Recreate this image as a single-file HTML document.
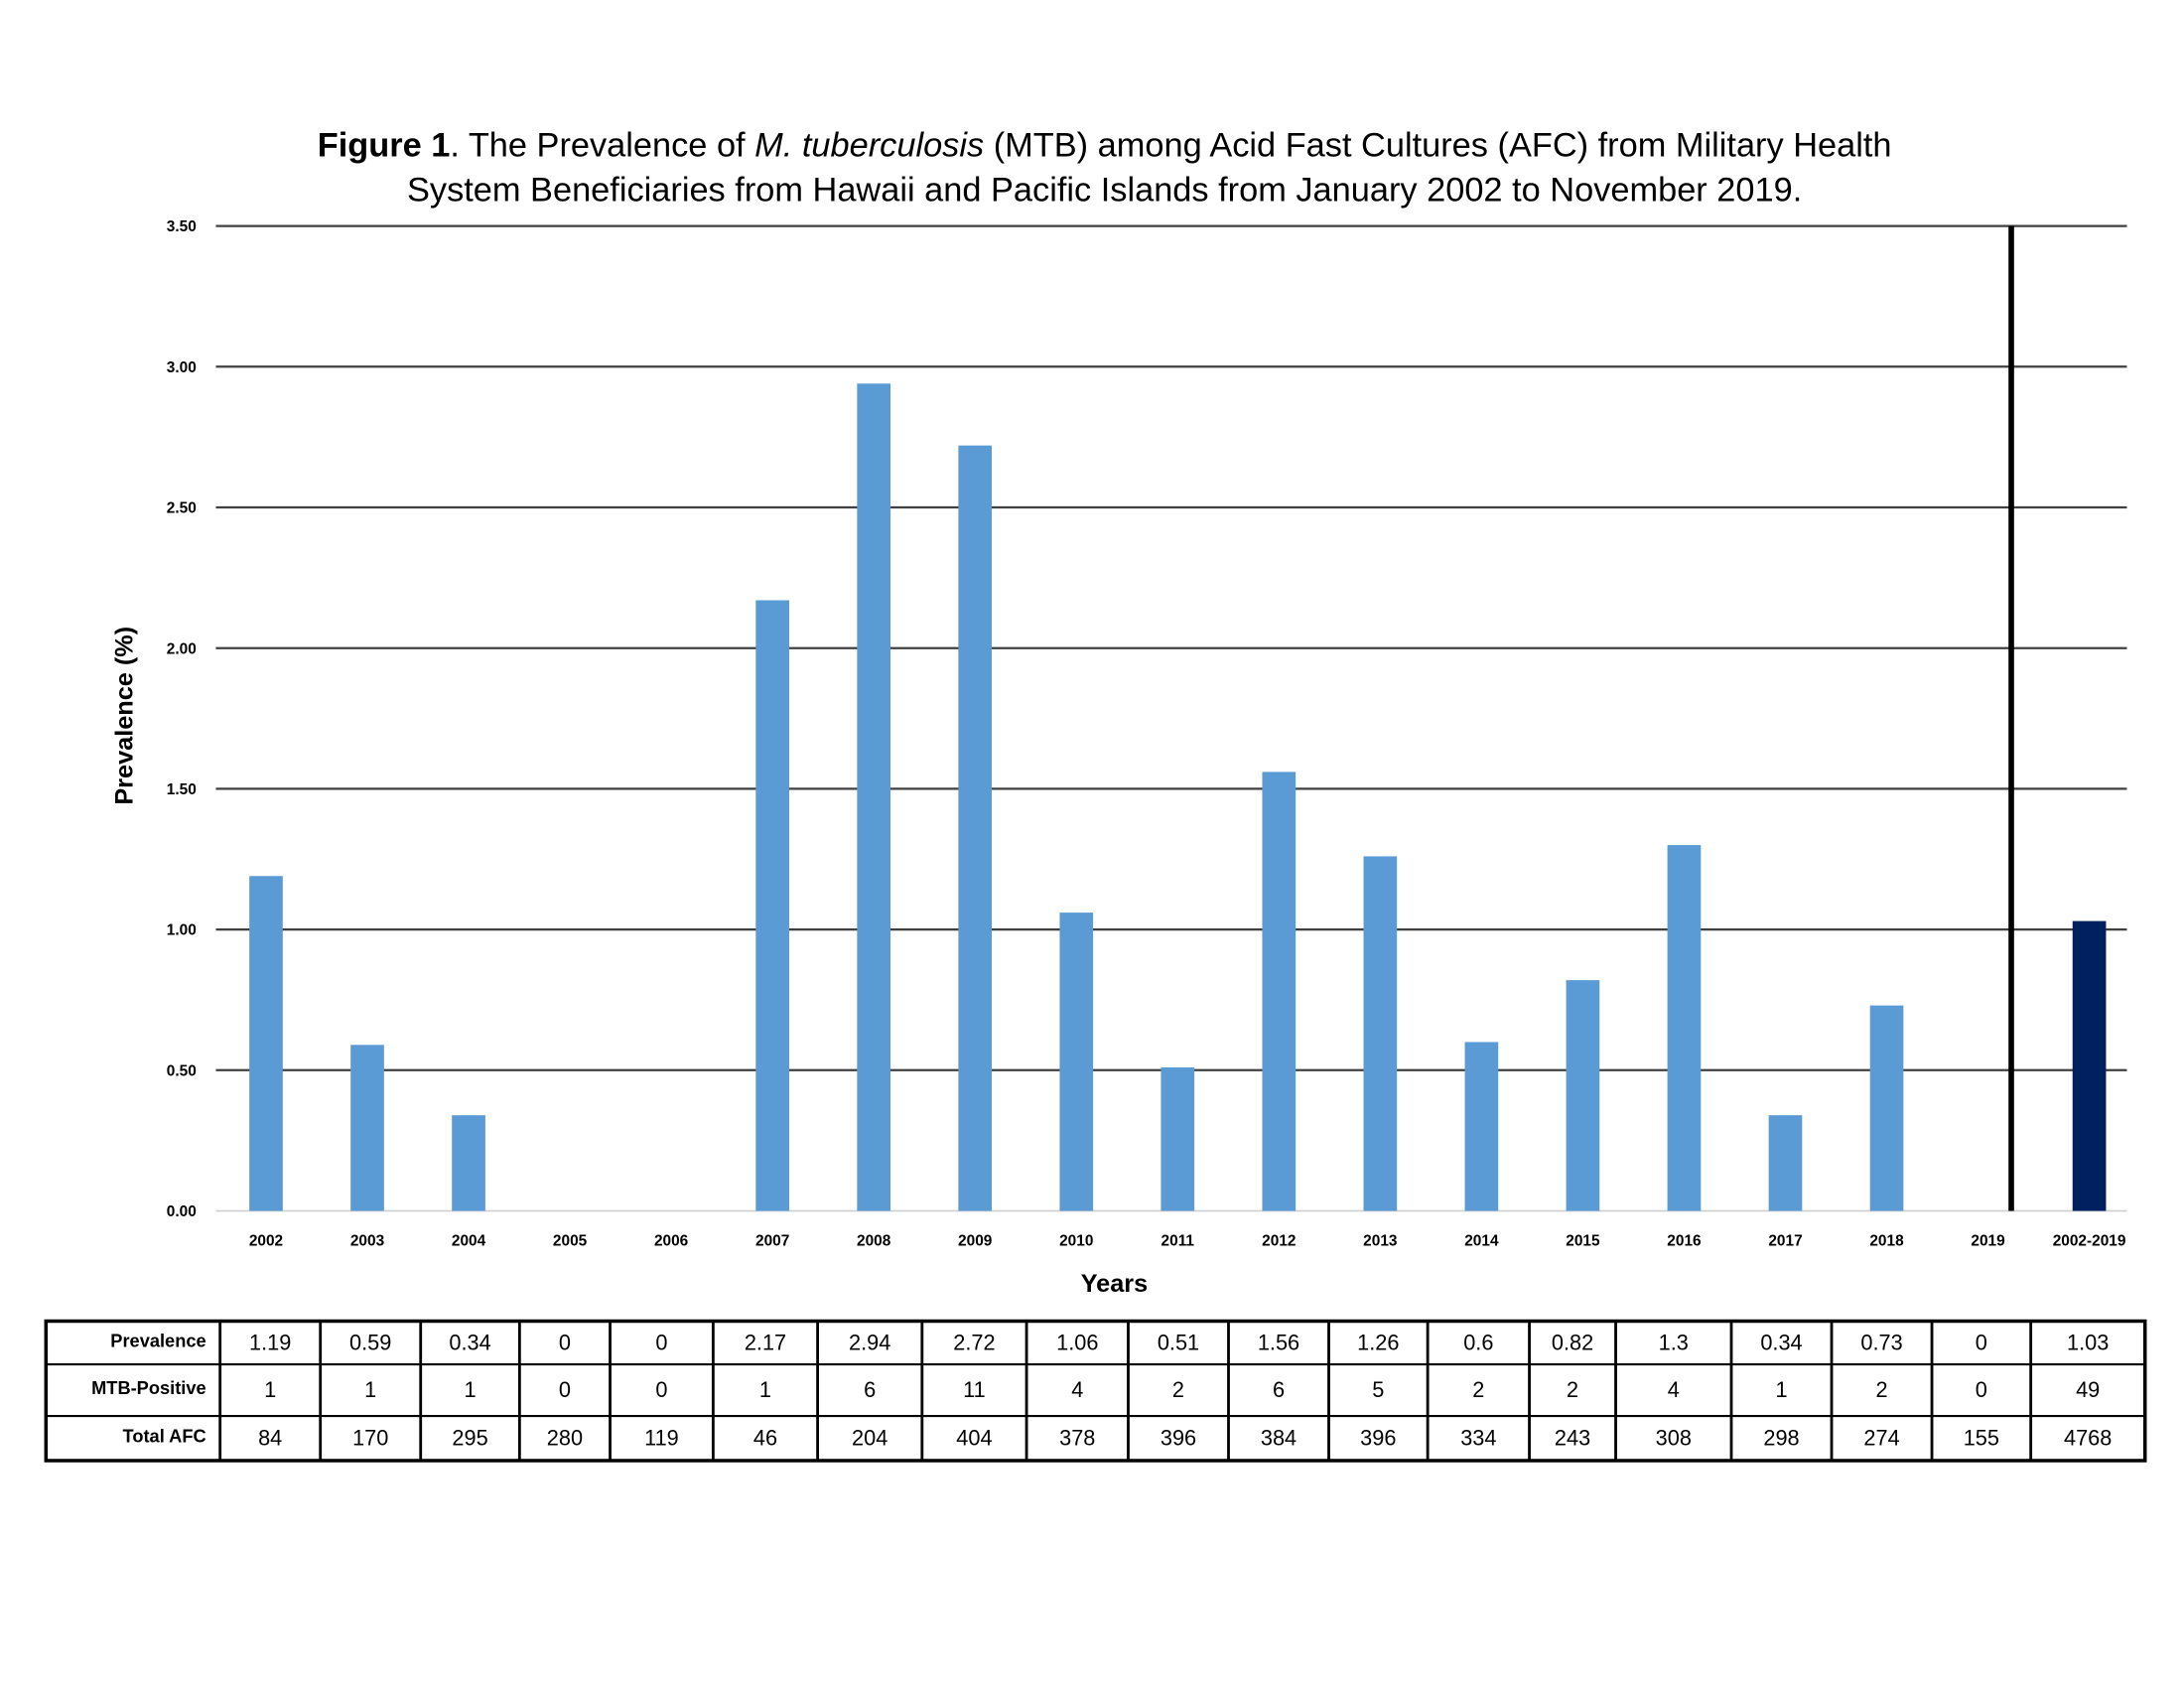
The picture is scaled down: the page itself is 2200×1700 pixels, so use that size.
<!DOCTYPE html>
<html><head><meta charset="utf-8"><style>
html,body{margin:0;padding:0;background:#fff;}
svg{display:block;font-family:"Liberation Sans",sans-serif;}
</style></head><body>
<svg id="chart" width="2200" height="1700" viewBox="0 0 1568 1210" preserveAspectRatio="none" xmlns="http://www.w3.org/2000/svg">
<rect width="1568" height="1210" fill="#fff"/>
<text x="793" y="112" text-anchor="middle" font-size="24.5" fill="#000"><tspan font-weight="bold">Figure 1</tspan>. The Prevalence of <tspan font-style="italic">M. tuberculosis</tspan> (MTB) among Acid Fast Cultures (AFC) from Military Health</text>
<text x="793" y="144" text-anchor="middle" font-size="24.5" fill="#000">System Beneficiaries from Hawaii and Pacific Islands from January 2002 to November 2019.</text>
<g id="grid"></g><g id="bars"></g><g id="xlabels"></g><g id="table"></g>
<text transform="translate(95,513) rotate(-90)" text-anchor="middle" font-size="18" font-weight="bold">Prevalence (%)</text>
<text x="800" y="926" text-anchor="middle" font-size="18" font-weight="bold">Years</text>
</svg>
<script>
const categories=["2002","2003","2004","2005","2006","2007","2008","2009","2010","2011","2012","2013","2014","2015","2016","2017","2018","2019","2002-2019"];
const prevalence=[1.19,0.59,0.34,0,0,2.17,2.94,2.72,1.06,0.51,1.56,1.26,0.6,0.82,1.3,0.34,0.73,0,1.03];
const mtbPositive=[1,1,1,0,0,1,6,11,4,2,6,5,2,2,4,1,2,0,49];
const totalAfc=[84,170,295,280,119,46,204,404,378,396,384,396,334,243,308,298,274,155,4768];
const prevalenceLabels=["1.19","0.59","0.34","0","0","2.17","2.94","2.72","1.06","0.51","1.56","1.26","0.6","0.82","1.3","0.34","0.73","0","1.03"];
const yTicks=[0,0.5,1,1.5,2,2.5,3,3.5];
const yTickLabels=["0.00","0.50","1.00","1.50","2.00","2.50","3.00","3.50"];
const NS="http://www.w3.org/2000/svg";
function mk(tag,attrs,parent){const e=document.createElementNS(NS,tag);for(const k in attrs)e.setAttribute(k,attrs[k]);parent.appendChild(e);return e;}
const plotL=155,plotR=1527,y0=868,yTop=162;
function yScale(v){return y0-(v/3.5)*(y0-yTop);}
function xScale(i){return 191+i*(1500-191)/(categories.length-1);}
const grid=document.getElementById('grid');
yTicks.forEach((t,i)=>{
  const l=mk('line',{x1:plotL,x2:plotR,y1:yScale(t),y2:yScale(t),stroke:i===0?'#d0d0d0':'#404040','stroke-width':i===0?1.2:1.6},grid);
  
  
  const tx=mk('text',{x:141,y:yScale(t)+4,'text-anchor':'end','font-size':11,'font-weight':'bold'},grid);
  tx.textContent=yTickLabels[i];
  
  
});
const bars=document.getElementById('bars');
prevalence.forEach((v,i)=>{
  const last=i===prevalence.length-1;
  const r=mk('rect',{x:xScale(i)-12,y:yScale(v),width:24,height:y0-yScale(v),fill:last?'#002060':'#5b9bd5'},bars);
  
  
});
const sep=mk('line',{x1:1444,x2:1444,y1:yTop,y2:y0,stroke:'#000','stroke-width':4},bars);


const xl=document.getElementById('xlabels');
categories.forEach((c,i)=>{
  const t=mk('text',{x:xScale(i),y:893,'text-anchor':'middle','font-size':11,'font-weight':'bold'},xl);
  t.textContent=c;
  
  
});
const tb=document.getElementById('table');
const colB=[33,158,230,302,373,438,512,587,662,737,810,882,954,1025,1098,1160,1243,1315,1387,1458,1540];
const rowB=[947,978,1015,1047];
const rows=[["Prevalence",prevalenceLabels],["MTB-Positive",mtbPositive],["Total AFC",totalAfc]];
const bg=mk('rect',{x:33,y:947,width:1507,height:100,fill:'none',stroke:'#000','stroke-width':2.5},tb);


rowB.slice(1,3).forEach(y=>{const l=mk('line',{x1:33,x2:1540,y1:y,y2:y,stroke:'#000','stroke-width':1.5},tb);
  
  });
colB.slice(1,-1).forEach(x=>{const l=mk('line',{x1:x,x2:x,y1:947,y2:1047,stroke:'#000','stroke-width':2},tb);
  
  });
rows.forEach((r,ri)=>{
  const cy=(rowB[ri]+rowB[ri+1])/2+5;
  const h=mk('text',{x:148,y:cy-2,'text-anchor':'end','font-size':13,'font-weight':'bold'},tb);
  h.textContent=r[0];
  
  
  r[1].forEach((v,i)=>{
    const t=mk('text',{x:(colB[i+1]+colB[i+2])/2,y:cy,'text-anchor':'middle','font-size':15.5},tb);
    t.textContent=String(v);
    
    
  });
});
</script>
</body></html>
